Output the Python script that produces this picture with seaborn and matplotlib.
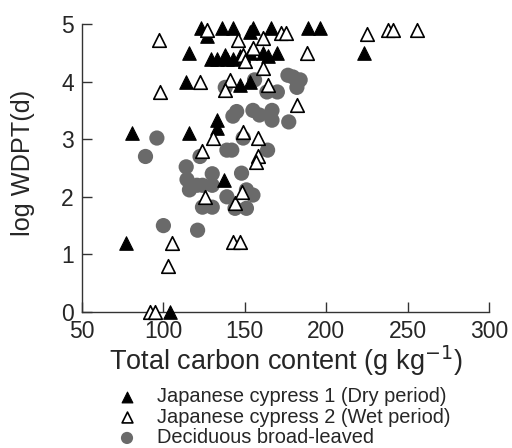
import matplotlib
matplotlib.use("Agg")
import matplotlib.pyplot as plt
import seaborn as sns
import pandas as pd

# Japanese cypress 1 (Dry period) - filled triangles
dry_x = [77, 81, 104, 116, 116, 114, 123, 127, 136, 143, 155, 166, 189, 196, 223,
         129, 133, 139, 143, 147, 153, 161, 164, 170, 138, 153, 147, 153, 133, 133, 137]
dry_y = [1.2, 3.1, 0.0, 3.1, 4.5, 4.0, 4.93, 4.8, 4.93, 4.93, 4.93, 4.93, 4.93, 4.93, 4.5,
         4.4, 4.4, 4.4, 4.4, 4.45, 4.5, 4.5, 4.45, 4.5, 4.46, 4.86, 3.94, 4.0, 3.33, 3.2, 2.3]

# Japanese cypress 2 (Wet period) - open triangles
wet_x = [92, 95, 103, 105, 97, 98, 122.5, 127, 146, 149, 155, 150, 161, 161, 172, 175,
         188, 225, 238, 241, 256, 141, 138, 164, 182, 130.5, 149, 158, 124, 158, 157,
         125.5, 144, 148, 143, 147]
wet_y = [0.0, 0.0, 0.8, 1.2, 4.72, 3.82, 4.0, 4.9, 4.72, 4.46, 4.58, 4.35, 4.23, 4.75, 4.84, 4.84,
         4.5, 4.83, 4.9, 4.9, 4.9, 4.03, 3.85, 3.94, 3.6, 3.02, 3.13, 3.02, 2.8, 2.7, 2.6,
         2.0, 1.9, 2.08, 1.22, 1.22]

# Deciduous broad-leaved - grey circles
dec_x = [89, 96, 100, 114, 114.5, 116, 120.6, 124, 130, 130, 124, 130, 121, 122.5,
         138, 156, 163.6, 170, 176.5, 184, 182, 145, 142.7, 155, 159, 166.7, 166.7, 177,
         149, 139, 142, 164, 148, 139, 151, 155, 144, 151, 182.7, 179.6]
dec_y = [2.7, 3.02, 1.5, 2.52, 2.3, 2.12, 2.2, 2.2, 2.4, 2.2, 1.82, 1.82, 1.42, 2.7,
         3.9, 4.03, 3.82, 3.82, 4.11, 4.03, 3.9, 3.48, 3.4, 3.5, 3.42, 3.5, 3.33, 3.3,
         3.02, 2.81, 2.81, 2.81, 2.41, 2.0, 2.12, 2.03, 1.8, 1.8, 4.0, 4.08]

labels = ["Japanese cypress 1 (Dry period)",
          "Japanese cypress 2 (Wet period)",
          "Deciduous broad-leaved"]

x_ticks = [50, 100, 150, 200, 250, 300]
y_ticks = [0, 1, 2, 3, 4, 5]

df_dry = pd.DataFrame({"x": dry_x, "y": dry_y})
df_wet = pd.DataFrame({"x": wet_x, "y": wet_y})
df_dec = pd.DataFrame({"x": dec_x, "y": dec_y})

sns.set_style("ticks")
plt.rcParams["font.family"] = ["Liberation Sans", "DejaVu Sans"]

fig = plt.figure(figsize=(5.12, 4.48), dpi=100)
ax = fig.add_axes([82/512, 1-312/448, (489-82)/512, (312-24)/448])

sns.scatterplot(data=df_dec, x="x", y="y", ax=ax, marker="o", s=120,
                color="#6a6a6a", edgecolor="none", label=labels[2], clip_on=False, zorder=2)
sns.scatterplot(data=df_dry, x="x", y="y", ax=ax, marker="^", s=95,
                color="black", edgecolor="black", label=labels[0], clip_on=False, zorder=3)
sns.scatterplot(data=df_wet, x="x", y="y", ax=ax, marker="^", s=95,
                facecolor="white", edgecolor="black", linewidth=1.2,
                label=labels[1], clip_on=False, zorder=4)

ax.set_xlim(50, 300)
ax.set_ylim(0, 5)
ax.set_xticks(x_ticks)
ax.set_yticks(y_ticks)
ax.tick_params(direction="in", length=7, width=1, labelsize=16.5, color="#333333")
ax.tick_params(axis="x", pad=6)
ax.tick_params(axis="y", pad=6)
for s in ["top", "right"]:
    ax.spines[s].set_visible(False)
for s in ["left", "bottom"]:
    ax.spines[s].set_linewidth(1)
    ax.spines[s].set_color("#333333")

ax.set_xlabel("Total carbon content (g kg$^{-1}$)", fontsize=19.5, labelpad=0)
ax.set_ylabel("log WDPT(d)", fontsize=18.2)
ax.yaxis.set_label_coords(-0.115, 0.517)

h, l = ax.get_legend_handles_labels()
order = [l.index(t) for t in labels]
if ax.get_legend():
    ax.get_legend().remove()
fig.legend([h[i] for i in order], [l[i] for i in order],
           loc="upper left", bbox_to_anchor=(117/512, 1-387/448), frameon=False,
           fontsize=14.4, handletextpad=1.0, labelspacing=0.08, borderpad=0,
           borderaxespad=0, handlelength=1.0, markerscale=0.8)

fig.savefig("out.png", dpi=100)
